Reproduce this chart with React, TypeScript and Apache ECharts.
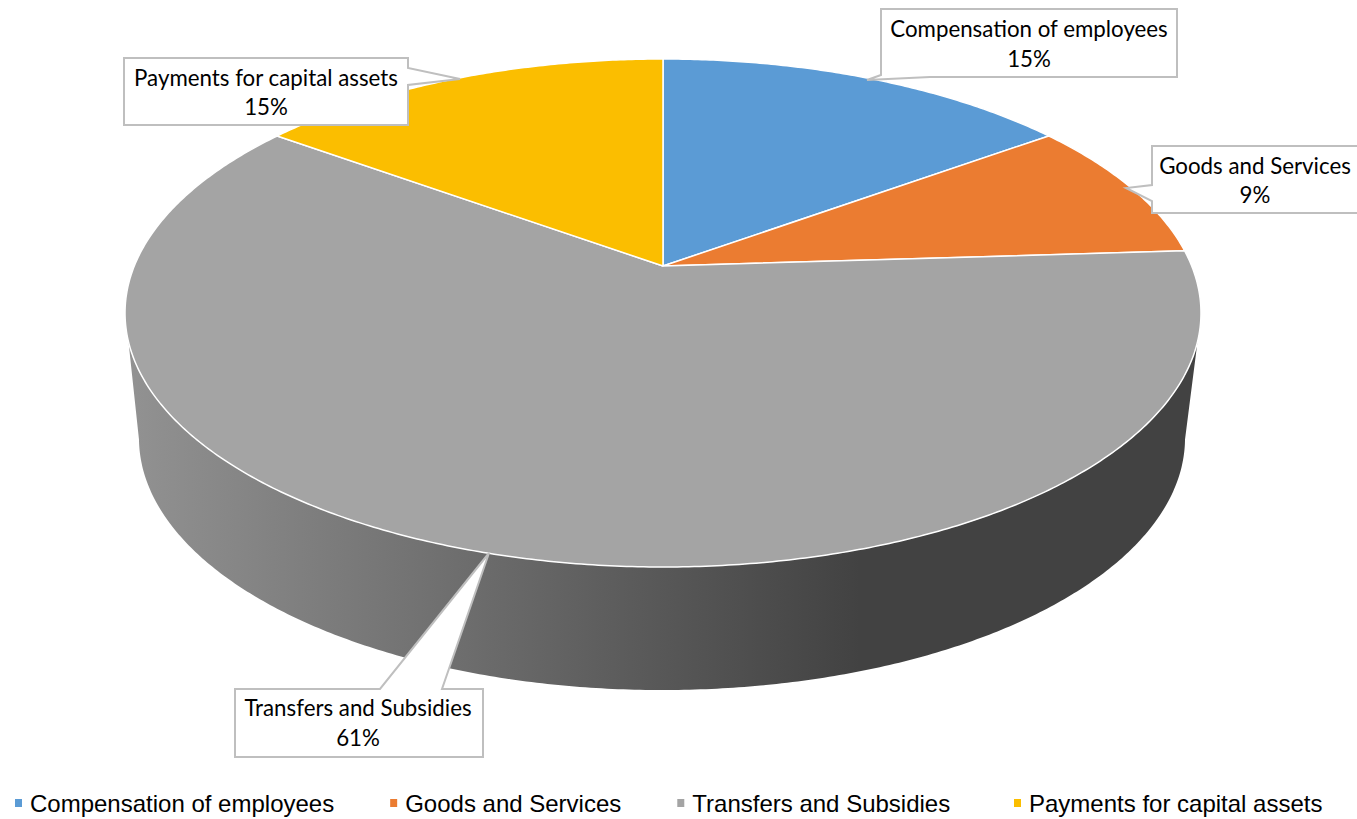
import React, { useEffect, useRef } from "react";
import * as echarts from "echarts";

const categories = [
  "Compensation of employees",
  "Goods and Services",
  "Transfers and Subsidies",
  "Payments for capital assets",
];
const shares = [15, 9, 61, 15];
const sliceColors = ["#5B9BD5", "#EB7C31", "#A4A4A4", "#FBBE00"];

const WIDTH = 1357;
const HEIGHT = 819;

// Perspective applied to the unit disc; "perspective" shrinks the far side.
const perspective = 0.185;
const topDisc = { cx: 663, cy: 266, ax: 528.7, ay: 245.3 };
const baseDisc = { cx: 662, cy: 391.4, ax: 514, ay: 243.4 };
// Clockwise degrees from 12 o'clock between which the outer wall faces the viewer.
const wallTopFrom = 107;
const wallTopTo = 253;
const wallBaseFrom = 101;
const wallBaseTo = 259;

type Disc = typeof topDisc;

function project(disc: Disc, deg: number): number[] {
  const rad = (deg * Math.PI) / 180;
  const x = Math.sin(rad);
  const y = -Math.cos(rad);
  const w = 1 - perspective * y;
  return [disc.cx + (disc.ax * x) / w, disc.cy + (disc.ay * y) / w];
}

function arc(disc: Disc, from: number, to: number): number[][] {
  const steps = Math.max(2, Math.ceil(Math.abs(to - from) * 2));
  const pts: number[][] = [];
  for (let i = 0; i <= steps; i++) pts.push(project(disc, from + ((to - from) * i) / steps));
  return pts;
}

const total = shares.reduce((a, b) => a + b, 0);
function sliceRange(index: number): [number, number] {
  const before = shares.slice(0, index).reduce((a, b) => a + b, 0);
  return [(before / total) * 360, ((before + shares[index]) / total) * 360];
}

const wallFill = new echarts.graphic.LinearGradient(
  127,
  0,
  1199,
  0,
  [
    { offset: 0, color: "#929292" },
    { offset: 0.684, color: "#424242" },
    { offset: 1, color: "#424242" },
  ],
  true
);

function renderSlice(index: number) {
  return () => {
    const [start, end] = sliceRange(index);
    const children: any[] = [];
    const topStart = Math.max(start, wallTopFrom);
    const topEnd = Math.min(end, wallTopTo);
    if (topEnd > topStart) {
      const baseStart = Math.max(start, wallBaseFrom);
      const baseEnd = Math.min(end, wallBaseTo);
      children.push({
        type: "polygon",
        shape: { points: [...arc(topDisc, topStart, topEnd), ...arc(baseDisc, baseEnd, baseStart)] },
        style: { fill: wallFill, stroke: "none" },
      });
    }
    children.push({
      type: "polygon",
      shape: { points: [[topDisc.cx, topDisc.cy], ...arc(topDisc, start, end)] },
      style: { fill: sliceColors[index], stroke: "#FFFFFF", lineWidth: 1.5, lineJoin: "round" },
    });
    return { type: "group", children };
  };
}

// Callout outlines: a box with a wedge reaching towards its slice.
const calloutOutlines = [
  {
    text: [1029, 43.5],
    points: [[881, 9], [1177, 9], [1177, 77], [930, 77], [867, 80], [881, 75]],
  },
  {
    text: [1255, 180],
    points: [[1152, 146], [1364, 146], [1364, 213], [1152, 213], [1152, 201], [1126, 188], [1152, 185]],
  },
  {
    text: [358, 722.5],
    points: [[235, 689], [380, 689], [489, 553], [442, 689], [483, 689], [483, 757], [235, 757]],
  },
  {
    text: [266, 92],
    points: [[124, 58], [408, 58], [408, 68], [460, 79], [408, 85], [408, 125], [124, 125]],
  },
];

function calloutGraphics() {
  const out: any[] = [];
  calloutOutlines.forEach((c, i) => {
    out.push({
      type: "polygon",
      z: 20,
      shape: { points: c.points },
      style: { fill: "#FFFFFF", stroke: "#BFBFBF", lineWidth: 2 },
    });
    out.push({
      type: "text",
      z: 21,
      style: {
        text: `${categories[i]}\n${shares[i]}%`,
        x: c.text[0],
        y: c.text[1],
        align: "center",
        verticalAlign: "middle",
        font: "22.3px Lato",
        lineHeight: 29.5,
        fill: "#000000",
      },
    });
  });
  return out;
}

const legendBase = {
  top: 791,
  icon: "rect",
  itemWidth: 7,
  itemHeight: 8,
  itemGap: 56,
  padding: [0, 0, 0, 3],
  textStyle: {
    fontFamily: "Liberation Sans",
    fontSize: 24,
    color: "#000000",
    padding: [0, 0, 0, 3],
  },
};

export default function App() {
  const ref = useRef<HTMLDivElement>(null);

  useEffect(() => {
    const chart = echarts.init(ref.current!, null, { renderer: "svg" });
    chart.setOption({
      animation: false,
      backgroundColor: "#FFFFFF",
      // The last entry sits a little further out, so it has a legend of its own.
      legend: [
        { ...legendBase, left: 12, data: categories.slice(0, 3) },
        { ...legendBase, left: 1011, data: categories.slice(3) },
      ],
      graphic: calloutGraphics(),
      series: categories.map((name, i) => ({
        type: "custom",
        name,
        coordinateSystem: "none",
        silent: true,
        itemStyle: { color: sliceColors[i] },
        data: [shares[i]],
        renderItem: renderSlice(i),
      })),
    });
    return () => chart.dispose();
  }, []);

  return (
    <div
      ref={ref}
      style={{ position: "absolute", left: 0, top: 0, width: WIDTH, height: HEIGHT }}
    />
  );
}
